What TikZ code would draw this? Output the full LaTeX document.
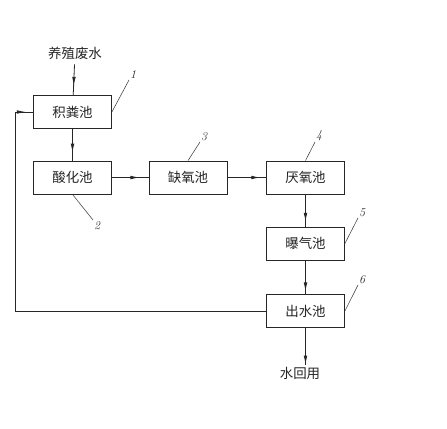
\documentclass[tikz,border=0pt]{standalone}
\usepackage{fontspec}
\newfontfamily\cjk{Noto Sans CJK SC}
\usetikzlibrary{arrows.meta, decorations.markings}

\tikzset{
	line/.style={draw=black!85, line width=0.8bp},
	pool/.style={line, rectangle, minimum width=78bp, minimum height=33bp, inner sep=0pt, font=\cjk\fontsize{13.5}{15}\selectfont, text=black!85},
	flow/.style={line, postaction={decorate}, decoration={markings, mark=at position #1 with {\arrow{Latex[length=9bp, width=3.6bp]}}}},
	flow/.default=0.8,
	num/.style={font=\itshape\fontsize{12}{14}\selectfont, inner sep=1bp, text=black!85},
	lead/.style={draw=black!80, line width=0.5bp}
}

\begin{document}
\begin{tikzpicture}[x=1bp, y=-1bp]
	\useasboundingbox[fill=white] (0,0) rectangle (447,428);
	% Pools:
	\node[pool] (b1) at (72.5,112) {积粪池};
	\node[pool] (b2) at (72.5,177.5) {酸化池};
	\node[pool] (b3) at (188,177.5) {缺氧池};
	\node[pool] (b4) at (305.5,177.5) {厌氧池};
	\node[pool] (b5) at (305.5,243.5) {曝气池};
	\node[pool] (b6) at (305.5,311) {出水池};
	\node[font=\cjk\fontsize{13.5}{15}\selectfont, text=black!85, inner sep=5bp] (in) at (75,53) {养殖废水};
	\node[font=\cjk\fontsize{13.5}{15}\selectfont, text=black!85, inner sep=2bp] (out) at (300,373) {水回用};
	% Flow lines:
	\draw[flow=0.7] (in) -- (b1);
	\draw[flow=0.75] (b1) -- (b2);
	\draw[flow=0.75] (b2) -- (b3);
	\draw[flow=0.85] (b3) -- (b4);
	\draw[flow=0.85] (b4) -- (b5);
	\draw[flow=0.92] (b5) -- (b6);
	\draw[flow=1] (b6.south) -- (out.north -| b6.south);
	\coordinate (ret) at (15,112);
	\draw[line] (b6.west) -| (ret);
	\draw[flow=0.6] (ret) -- (b1.west);
	% Leaders and numbers:
	\node[num, anchor=south west] (n1) at (129,80) {1};
	\node[num, anchor=north west] (n2) at (93,220) {2};
	\node[num, anchor=south west] (n3) at (200,142) {3};
	\node[num, anchor=south west] (n4) at (315,142) {4};
	\node[num, anchor=south west] (n5) at (358,218) {5};
	\node[num, anchor=south west] (n6) at (358,285) {6};
	\draw[lead] (b1.east) -- (n1.south west);
	\draw[lead] (b2.south) -- (n2.north west);
	\draw[lead] (b3.north) -- (n3.south west);
	\draw[lead] (b4.north) -- (n4.south west);
	\draw[lead] (b5.east) -- (n5.south west);
	\draw[lead] (b6.east) -- (n6.south west);
\end{tikzpicture}
\end{document}
